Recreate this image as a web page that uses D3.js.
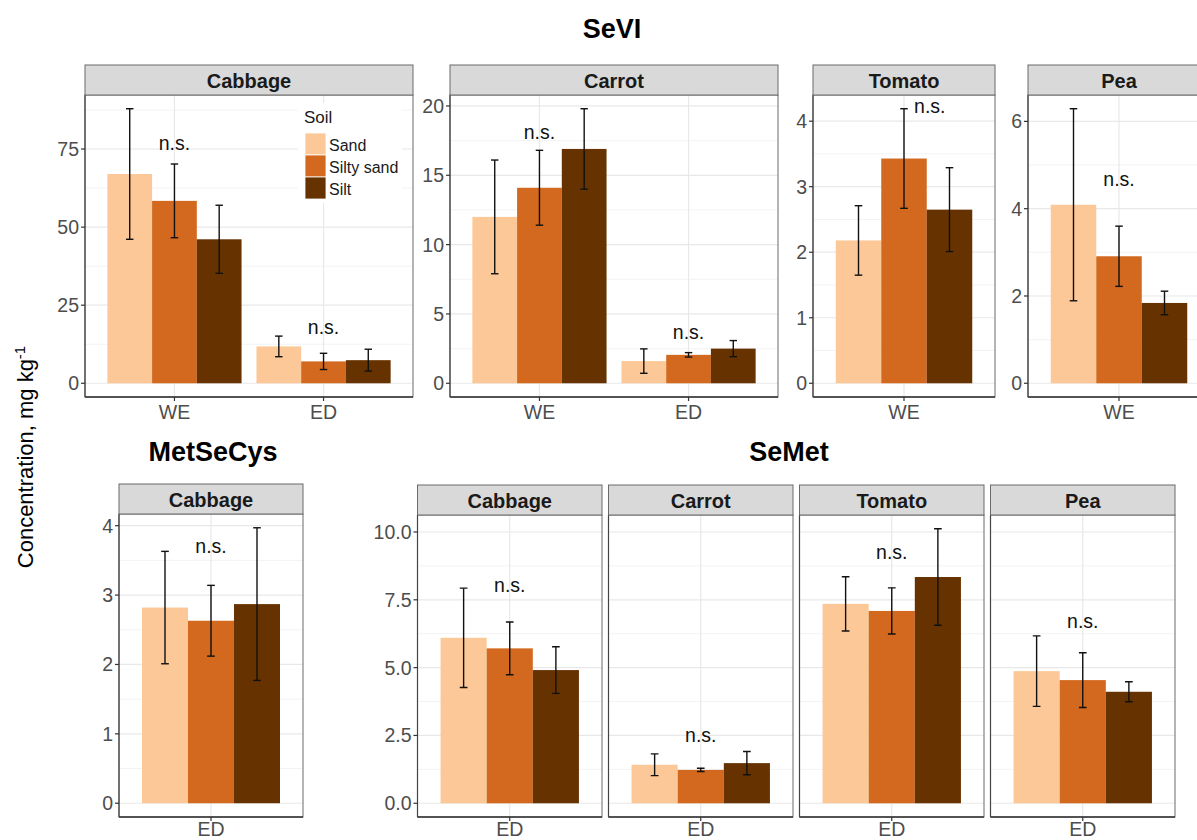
<!DOCTYPE html>
<html>
<head>
<meta charset="utf-8">
<script src="https://cdn.jsdelivr.net/npm/d3@7"></script>
<style>
  html, body { margin: 0; padding: 0; background: #fff; }
  svg { display: block; font-family: "Liberation Sans", Arial, Helvetica, sans-serif; }
</style>
</head>
<body>
<svg id="chart" width="1197" height="840"></svg>
<script>
// ---------------- DATA ----------------
const soils = ["Sand", "Silty sand", "Silt"];
const soilColors = ["#fdc897", "#d2691e", "#663300"];

const extractionsTop = ["WE", "ED"];
const extractionsOne = ["WE"];
const extractionsED = ["ED"];

// SeVI (rows = extraction, cols = soil)
const seviCabbageMean = [[67.0, 58.4, 46.1], [11.8, 7.0, 7.4]];
const seviCabbageSE   = [[20.9, 11.8, 10.9], [3.3, 2.6, 3.5]];
const seviCabbageNS   = [77, 18];
const seviCarrotMean  = [[12.0, 14.1, 16.9], [1.6, 2.05, 2.5]];
const seviCarrotSE    = [[4.1, 2.7, 2.9], [0.88, 0.16, 0.58]];
const seviCarrotNS    = [18.1, 3.7];
const seviTomatoMean  = [[2.18, 3.43, 2.65]];
const seviTomatoSE    = [[0.53, 0.76, 0.64]];
const seviTomatoNS    = [4.23];
const seviPeaMean     = [[4.09, 2.91, 1.84]];
const seviPeaSE       = [[2.2, 0.69, 0.27]];
const seviPeaNS       = [4.67];

// MetSeCys
const metCabbageMean  = [[2.82, 2.63, 2.87]];
const metCabbageSE    = [[0.81, 0.51, 1.1]];
const metCabbageNS    = [3.71];

// SeMet
const semetCabbageMean = [[6.10, 5.71, 4.91]];
const semetCabbageSE   = [[1.83, 0.97, 0.86]];
const semetCabbageNS   = [8.05];
const semetCarrotMean  = [[1.42, 1.23, 1.48]];
const semetCarrotSE    = [[0.40, 0.06, 0.43]];
const semetCarrotNS    = [2.53];
const semetTomatoMean  = [[7.35, 7.09, 8.34]];
const semetTomatoSE    = [[1.0, 0.85, 1.78]];
const semetTomatoNS    = [9.28];
const semetPeaMean     = [[4.87, 4.54, 4.11]];
const semetPeaSE       = [[1.3, 1.01, 0.37]];
const semetPeaNS       = [6.73];

// tick values / labels
const ticksSeviCabbage = [0, 25, 50, 75];
const ticksSeviCarrot  = [0, 5, 10, 15, 20];
const ticksSeviTomato  = [0, 1, 2, 3, 4];
const ticksSeviPea     = [0, 2, 4, 6];
const ticksMet         = [0, 1, 2, 3, 4];
const ticksSemet       = [0, 2.5, 5, 7.5, 10];
const tickLabelsSemet  = ["0.0", "2.5", "5.0", "7.5", "10.0"];

const nsLabel = "n.s.";

// ---------------- DRAWING ----------------
const svg = d3.select("#chart");
const FONT_AXIS = 19.5;

function yMaxOf(means, ses) {
  let m = 0;
  means.forEach((row, i) => row.forEach((v, j) => { m = Math.max(m, v + ses[i][j]); }));
  return m;
}

function drawPanel(o) {
  const g = svg.append("g");
  const M = o.yMax;
  const y = d3.scaleLinear().domain([-0.05 * M, 1.05 * M]).range([o.bottom, o.stripBot]);
  const n = o.cats.length;
  const x = d3.scaleLinear().domain([0.4, n + 0.6]).range([o.x0, o.x1]);
  const pw = o.x1 - o.x0, ph = o.bottom - o.stripBot;

  const clipId = "clip" + Math.round(o.x0) + "_" + Math.round(o.bottom);
  svg.append("clipPath").attr("id", clipId).append("rect")
    .attr("x", o.x0).attr("y", o.stripBot).attr("width", pw).attr("height", ph);
  const inner = g.append("g").attr("clip-path", `url(#${clipId})`);

  inner.append("rect").attr("x", o.x0).attr("y", o.stripBot).attr("width", pw).attr("height", ph).attr("fill", "#fff");

  // minor grid
  const t = o.ticks, step = t[1] - t[0];
  const minors = [];
  for (let i = -1; i < t.length; i++) {
    const v = t[0] + (i + 0.5) * step;
    if (v > y.domain()[0] && v < y.domain()[1]) minors.push(v);
  }
  inner.selectAll(".minor").data(minors).join("line")
    .attr("x1", o.x0).attr("x2", o.x1).attr("y1", d => y(d)).attr("y2", d => y(d))
    .attr("stroke", "#f3f3f3").attr("stroke-width", 1);
  // major grid
  inner.selectAll(".major").data(t).join("line")
    .attr("x1", o.x0).attr("x2", o.x1).attr("y1", d => y(d)).attr("y2", d => y(d))
    .attr("stroke", "#e8e8e8").attr("stroke-width", 1.2);
  inner.selectAll(".vmajor").data(o.cats).join("line")
    .attr("x1", (d, i) => x(i + 1)).attr("x2", (d, i) => x(i + 1))
    .attr("y1", o.stripBot).attr("y2", o.bottom)
    .attr("stroke", "#e8e8e8").attr("stroke-width", 1.2);

  // bars
  const bars = [];
  o.cats.forEach((c, i) => soils.forEach((s, j) => {
    bars.push({ i, j, mean: o.mean[i][j], se: o.se[i][j] });
  }));
  const bw = 0.3;
  inner.selectAll(".bar").data(bars).join("rect")
    .attr("x", d => x(d.i + 1 + (d.j - 1) * bw - bw / 2))
    .attr("width", d => x(bw) - x(0))
    .attr("y", d => y(d.mean))
    .attr("height", d => y(0) - y(d.mean))
    .attr("fill", d => soilColors[d.j]);

  // error bars
  const cap = 0.025;
  const eb = inner.selectAll(".eb").data(bars).join("g").attr("stroke", "#111").attr("stroke-width", 1.4);
  eb.append("line")
    .attr("x1", d => x(d.i + 1 + (d.j - 1) * bw)).attr("x2", d => x(d.i + 1 + (d.j - 1) * bw))
    .attr("y1", d => y(d.mean - d.se)).attr("y2", d => y(d.mean + d.se));
  eb.append("line")
    .attr("x1", d => x(d.i + 1 + (d.j - 1) * bw - cap)).attr("x2", d => x(d.i + 1 + (d.j - 1) * bw + cap))
    .attr("y1", d => y(d.mean + d.se)).attr("y2", d => y(d.mean + d.se));
  eb.append("line")
    .attr("x1", d => x(d.i + 1 + (d.j - 1) * bw - cap)).attr("x2", d => x(d.i + 1 + (d.j - 1) * bw + cap))
    .attr("y1", d => y(d.mean - d.se)).attr("y2", d => y(d.mean - d.se));

  // n.s. labels
  inner.selectAll(".ns").data(o.ns).join("text")
    .attr("x", (d, i) => x(i + 1 + (o.nsDx ? o.nsDx[i] : 0)))
    .attr("y", d => y(d))
    .attr("text-anchor", "middle").attr("dominant-baseline", "central")
    .attr("font-size", FONT_AXIS).attr("fill", "#111").text(nsLabel);

  if (o.legend) o.legend(inner);

  // panel border
  g.append("rect").attr("x", o.x0).attr("y", o.stripBot).attr("width", pw).attr("height", ph)
    .attr("fill", "none").attr("stroke", "#6a6a6a").attr("stroke-width", 1);
  // axis lines
  g.append("line").attr("x1", o.x0).attr("x2", o.x1).attr("y1", o.bottom).attr("y2", o.bottom)
    .attr("stroke", "#333").attr("stroke-width", 1.4);
  g.append("line").attr("x1", o.x0).attr("x2", o.x0).attr("y1", o.stripBot).attr("y2", o.bottom)
    .attr("stroke", "#444").attr("stroke-width", 1.2);

  // strip
  g.append("rect").attr("x", o.x0).attr("y", o.stripTop).attr("width", pw).attr("height", o.stripBot - o.stripTop)
    .attr("fill", "#d9d9d9").attr("stroke", "#6a6a6a").attr("stroke-width", 1);
  g.append("text").attr("x", o.x0 + pw / 2).attr("y", (o.stripTop + o.stripBot) / 2 + 1)
    .attr("text-anchor", "middle").attr("dominant-baseline", "central")
    .attr("font-size", 20).attr("font-weight", "bold").attr("fill", "#1a1a1a").text(o.label);

  // x axis
  const xa = g.append("g");
  o.cats.forEach((c, i) => {
    xa.append("line").attr("x1", x(i + 1)).attr("x2", x(i + 1)).attr("y1", o.bottom).attr("y2", o.bottom + 4)
      .attr("stroke", "#333").attr("stroke-width", 1.2);
    xa.append("text").attr("x", x(i + 1)).attr("y", o.bottom + (o.xLabDy || 22)).attr("text-anchor", "middle")
      .attr("font-size", FONT_AXIS).attr("fill", "#4d4d4d").text(c);
  });

  // y axis
  if (o.showY) {
    const ya = g.append("g");
    o.ticks.forEach((v, k) => {
      ya.append("line").attr("x1", o.x0 - 4).attr("x2", o.x0).attr("y1", y(v)).attr("y2", y(v))
        .attr("stroke", "#333").attr("stroke-width", 1.2);
      ya.append("text").attr("x", o.x0 - 6).attr("y", y(v)).attr("text-anchor", "end")
        .attr("dominant-baseline", "central").attr("font-size", FONT_AXIS).attr("fill", "#4d4d4d")
        .text(o.tickLabels ? o.tickLabels[k] : d3.format("d")(v));
    });
  }
}

function legend(inner) {
  const lx = 305, ly = 133, kw = 21, kh = 22;
  inner.append("rect").attr("x", 298).attr("y", 103).attr("width", 104).attr("height", 100).attr("fill", "#fff");
  inner.append("text").attr("x", lx - 1).attr("y", 117).attr("dominant-baseline", "central")
    .attr("font-size", 17).attr("fill", "#1a1a1a").text("Soil");
  soils.forEach((s, j) => {
    inner.append("rect").attr("x", lx).attr("y", ly + j * kh).attr("width", kw).attr("height", kh)
      .attr("fill", soilColors[j]).attr("stroke", "#fff").attr("stroke-width", 0.8);
    inner.append("text").attr("x", lx + kw + 3).attr("y", ly + j * kh + kh / 2 + 1)
      .attr("dominant-baseline", "central").attr("font-size", 16).attr("fill", "#1a1a1a").text(s);
  });
}

// ---- top row: SeVI ----
const topStrip = 65, topStripBot = 95, topBottom = 397;
drawPanel({ label: "Cabbage", x0: 85, x1: 413, stripTop: topStrip, stripBot: topStripBot, bottom: topBottom,
  cats: extractionsTop, mean: seviCabbageMean, se: seviCabbageSE, ns: seviCabbageNS,
  yMax: yMaxOf(seviCabbageMean, seviCabbageSE), ticks: ticksSeviCabbage, showY: true, legend: legend });
drawPanel({ label: "Carrot", x0: 450, x1: 778, stripTop: topStrip, stripBot: topStripBot, bottom: topBottom,
  cats: extractionsTop, mean: seviCarrotMean, se: seviCarrotSE, ns: seviCarrotNS,
  yMax: yMaxOf(seviCarrotMean, seviCarrotSE), ticks: ticksSeviCarrot, showY: true });
drawPanel({ label: "Tomato", x0: 813, x1: 995, stripTop: topStrip, stripBot: topStripBot, bottom: topBottom,
  cats: extractionsOne, mean: seviTomatoMean, se: seviTomatoSE, ns: seviTomatoNS, nsDx: [0.17],
  yMax: yMaxOf(seviTomatoMean, seviTomatoSE), ticks: ticksSeviTomato, showY: true });
drawPanel({ label: "Pea", x0: 1028, x1: 1210, stripTop: topStrip, stripBot: topStripBot, bottom: topBottom,
  cats: extractionsOne, mean: seviPeaMean, se: seviPeaSE, ns: seviPeaNS,
  yMax: yMaxOf(seviPeaMean, seviPeaSE), ticks: ticksSeviPea, showY: true });

// ---- bottom row ----
drawPanel({ label: "Cabbage", x0: 119, x1: 303, stripTop: 484, stripBot: 514, bottom: 817, xLabDy: 19,
  cats: extractionsED, mean: metCabbageMean, se: metCabbageSE, ns: metCabbageNS,
  yMax: yMaxOf(metCabbageMean, metCabbageSE), ticks: ticksMet, showY: true });

const semetMax = Math.max(yMaxOf(semetCabbageMean, semetCabbageSE), yMaxOf(semetCarrotMean, semetCarrotSE),
  yMaxOf(semetTomatoMean, semetTomatoSE), yMaxOf(semetPeaMean, semetPeaSE));
const semetPanels = [
  ["Cabbage", semetCabbageMean, semetCabbageSE, semetCabbageNS],
  ["Carrot", semetCarrotMean, semetCarrotSE, semetCarrotNS],
  ["Tomato", semetTomatoMean, semetTomatoSE, semetTomatoNS],
  ["Pea", semetPeaMean, semetPeaSE, semetPeaNS]
];
const sx0 = 417.5, sw = 184.5, sgap = 6.5;
semetPanels.forEach((p, k) => {
  drawPanel({ label: p[0], x0: sx0 + k * (sw + sgap), x1: sx0 + k * (sw + sgap) + sw,
    stripTop: 485, stripBot: 515, bottom: 817, xLabDy: 19,
    cats: extractionsED, mean: p[1], se: p[2], ns: p[3], yMax: semetMax,
    ticks: ticksSemet, tickLabels: tickLabelsSemet, showY: k === 0 });
});

// titles
svg.append("text").attr("x", 612).attr("y", 29).attr("text-anchor", "middle").attr("dominant-baseline", "central")
  .attr("font-size", 27).attr("font-weight", "bold").attr("fill", "#000").text("SeVI");
svg.append("text").attr("x", 213).attr("y", 452).attr("text-anchor", "middle").attr("dominant-baseline", "central")
  .attr("font-size", 27).attr("font-weight", "bold").attr("fill", "#000").text("MetSeCys");
svg.append("text").attr("x", 789).attr("y", 452).attr("text-anchor", "middle").attr("dominant-baseline", "central")
  .attr("font-size", 27).attr("font-weight", "bold").attr("fill", "#000").text("SeMet");

// y axis title
const yt = svg.append("text").attr("transform", "translate(33,457) rotate(-90)")
  .attr("text-anchor", "middle").attr("font-size", 22).attr("fill", "#000");
yt.append("tspan").text("Concentration, mg kg");
yt.append("tspan").attr("dy", -8).attr("font-size", 15).text("-1");
</script>
</body>
</html>
